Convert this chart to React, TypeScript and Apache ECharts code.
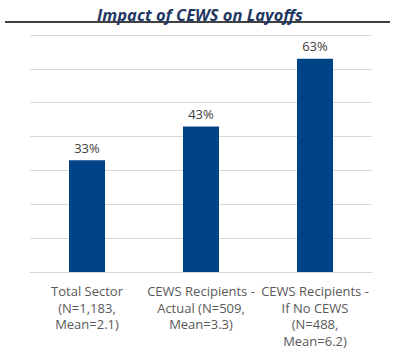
import React, { useEffect, useRef } from "react";
import * as echarts from "echarts";

const categories = [
  "Total Sector\n(N=1,183,\nMean=2.1)",
  "CEWS Recipients -\nActual (N=509,\nMean=3.3)",
  "CEWS Recipients -\nIf No CEWS\n(N=488,\nMean=6.2)",
];
const values = [33, 43, 63];
const titleText = "Impact of CEWS on Layoffs";

export default function App() {
  const ref = useRef<HTMLDivElement>(null);
  useEffect(() => {
    if (!ref.current) return;
    const chart = echarts.init(ref.current, null, { renderer: "svg" });
    chart.setOption({
      animation: false,
      backgroundColor: "#ffffff",
      title: {
        text: titleText,
        left: "center",
        top: 1,
        textStyle: {
          fontFamily: "Open Sans",
          fontStyle: "italic",
          fontWeight: "bold",
          fontSize: 16.5,
          color: "#1F3864",
        },
      },
      graphic: [
        {
          type: "line",
          shape: { x1: 5, y1: 22, x2: 390, y2: 22 },
          style: { stroke: "#000000", lineWidth: 1.5 },
        },
      ],
      grid: { left: 30, right: 28, top: 35, bottom: 86 },
      xAxis: {
        type: "category",
        data: categories,
        axisLine: { lineStyle: { color: "#d9d9d9", width: 1 } },
        axisTick: { show: false },
        axisLabel: {
          interval: 0,
          margin: 11,
          color: "#595959",
          fontFamily: "Open Sans",
          fontSize: 13,
          lineHeight: 16.5,
        },
      },
      yAxis: {
        type: "value",
        min: 0,
        max: 70,
        interval: 10,
        axisLabel: { show: false },
        axisLine: { show: false },
        axisTick: { show: false },
        splitLine: { lineStyle: { color: "#d9d9d9", width: 1 } },
      },
      series: [
        {
          type: "bar",
          data: values,
          barWidth: "31.6%",
          itemStyle: { color: "#004387" },
          label: {
            show: true,
            position: "top",
            distance: 6,
            formatter: "{c}%",
            color: "#404040",
            fontFamily: "Open Sans",
            fontSize: 13,
          },
        },
      ],
    });
    return () => chart.dispose();
  }, []);
  return <div ref={ref} style={{ width: 400, height: 358, position: "absolute", left: 0, top: 0 }} />;
}
